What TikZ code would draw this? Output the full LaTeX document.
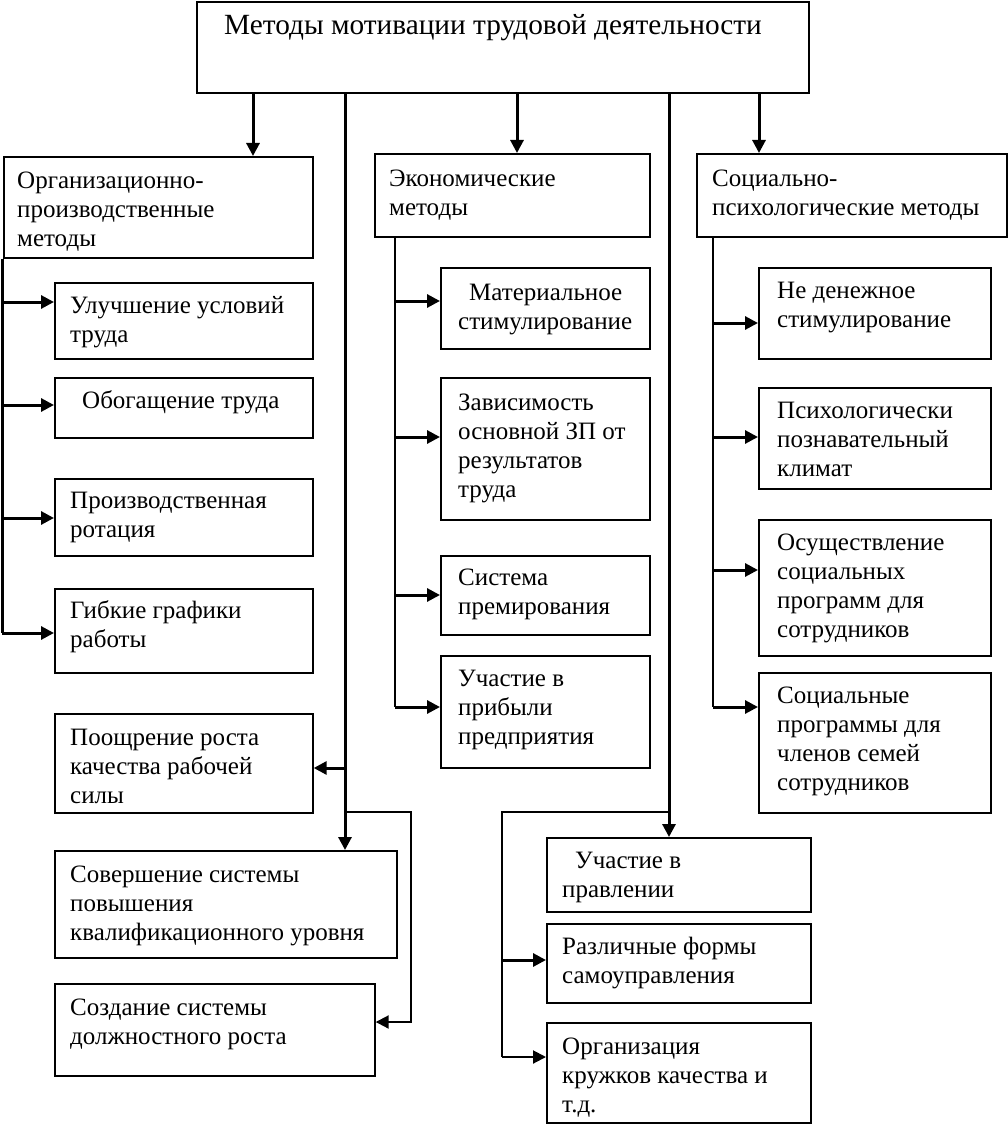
\documentclass[tikz,border=0pt]{standalone}
\usepackage{fontspec}
\setmainfont{Liberation Serif}
\usetikzlibrary{arrows.meta}
\begin{document}
\begin{tikzpicture}[x=1pt,y=-1pt,
  box/.style 2 args={draw, line width=1.7pt, anchor=north west, inner sep=0, minimum width=#1, minimum height=#2},
  txt/.style={anchor=north west, inner sep=0, align=left, font=\fontsize{25}{29}\selectfont, yshift=20.3pt},
  ttl/.style={anchor=base west, inner sep=0, font=\fontsize{29.3}{34}\selectfont},
  thk/.style={line width=3pt},
  med/.style={line width=2pt},
  thn/.style={line width=1.3pt},
  arr/.style={-{Triangle[length=13pt,width=13pt]}}]
\useasboundingbox (0,0) rectangle (1007,1147);

% top
\node[box={612}{91}] (top) at (196,1) {};
\node[ttl] (title) at (224,35) {Методы мотивации трудовой деятельности};

% headers
\node[box={309}{101}] (org) at (3,156) {};
\node[txt] (orgt) at (17,188) {\strut Организационно-\\производственные\\методы};
\node[box={275}{83}] (eco) at (374,153) {};
\node[txt] (ecot) at (389,186) {\strut Экономические\\методы};
\node[box={310}{83}] (soc) at (696,153) {};
\node[txt] (soct) at (712,186) {\strut Социально-\\психологические методы};

% arrows from top
\coordinate (xo) at (253,0);
\coordinate (xe) at (517,0);
\coordinate (xs) at (759,0);
\coordinate (xm1) at (345,0);
\coordinate (xm2) at (669,0);
\draw[thk,arr] (top.south -| xo) -- (org.north -| xo);
\draw[thk,arr] (top.south -| xe) -- (eco.north -| xe);
\draw[thk,arr] (top.south -| xs) -- (soc.north -| xs);

% organisational sub-boxes
\node[box={258}{76}] (b1) at (54,282) {};
\node[txt] (b1t) at (70,313) {\strut Улучшение условий\\труда};
\node[box={258}{60}] (b2) at (54,377) {};
\node[txt] (b2t) at (82,408) {\strut Обогащение труда};
\node[box={258}{77}] (b3) at (54,478) {};
\node[txt] (b3t) at (70,508) {\strut Производственная\\ротация};
\node[box={258}{84}] (b4) at (54,588) {};
\node[txt] (b4t) at (70,618) {\strut Гибкие графики\\работы};

\coordinate (ol1) at (2,302);
\coordinate (ol2) at (2,405);
\coordinate (ol3) at (2,518);
\coordinate (ol4) at (2,633);
\draw[thk] (org.south -| ol1) -- (ol4);
\draw[thk,arr] (ol1) -- (ol1 -| b1.west);
\draw[thk,arr] (ol2) -- (ol2 -| b2.west);
\draw[thk,arr] (ol3) -- (ol3 -| b3.west);
\draw[thk,arr] (ol4) -- (ol4 -| b4.west);

% economic sub-boxes
\node[box={209}{81}] (e1) at (440,267) {};
\node[txt] (e1t) at (458,300) {\strut\hspace*{11pt}Материальное\\стимулирование};
\node[box={209}{142}] (e2) at (440,377) {};
\node[txt] (e2t) at (458,410) {\strut Зависимость\\основной ЗП от\\результатов\\труда};
\node[box={209}{79}] (e3) at (440,555) {};
\node[txt] (e3t) at (458,585) {\strut Система\\премирования};
\node[box={209}{112}] (e4) at (440,655) {};
\node[txt] (e4t) at (458,686) {\strut Участие в\\прибыли\\предприятия};

\coordinate (el1) at (395,301);
\coordinate (el2) at (395,437);
\coordinate (el3) at (395,595);
\coordinate (el4) at (395,707);
\draw[thn] (eco.south -| el1) -- (el4);
\draw[thk,arr] (el1) -- (el1 -| e1.west);
\draw[thk,arr] (el2) -- (el2 -| e2.west);
\draw[thk,arr] (el3) -- (el3 -| e3.west);
\draw[thk,arr] (el4) -- (el4 -| e4.west);

% social sub-boxes
\node[box={232}{91}] (s1) at (758,267) {};
\node[txt] (s1t) at (777,298) {\strut Не денежное\\стимулирование};
\node[box={232}{101}] (s2) at (758,387) {};
\node[txt] (s2t) at (777,418) {\strut Психологически\\познавательный\\климат};
\node[box={232}{136}] (s3) at (758,519) {};
\node[txt] (s3t) at (777,550) {\strut Осуществление\\социальных\\программ для\\сотрудников};
\node[box={232}{140}] (s4) at (758,672) {};
\node[txt] (s4t) at (777,703) {\strut Социальные\\программы для\\членов семей\\сотрудников};

\coordinate (sl1) at (713,323);
\coordinate (sl2) at (713,437);
\coordinate (sl3) at (713,570);
\coordinate (sl4) at (713,707);
\draw[thn] (soc.south -| sl1) -- (sl4);
\draw[thk,arr] (sl1) -- (sl1 -| s1.west);
\draw[thk,arr] (sl2) -- (sl2 -| s2.west);
\draw[thk,arr] (sl3) -- (sl3 -| s3.west);
\draw[thk,arr] (sl4) -- (sl4 -| s4.west);

% lower left group
\node[box={258}{99}] (p1) at (54,713) {};
\node[txt] (p1t) at (70,745) {\strut Поощрение роста\\качества рабочей\\силы};
\node[box={342}{107}] (p2) at (54,850) {};
\node[txt] (p2t) at (70,882) {\strut Совершение системы\\повышения\\квалификационного уровня};
\node[box={320}{92}] (p3) at (54,983) {};
\node[txt] (p3t) at (70,1015) {\strut Создание системы\\должностного роста};

\coordinate (lm1) at (345,768);
\coordinate (lm2) at (345,812);
\coordinate (lr1) at (411,812);
\coordinate (lr2) at (411,1022);
\draw[thk,arr] (top.south -| xm1) -- (p2.north -| xm1);
\draw[thk,arr] (lm1) -- (lm1 -| p1.east);
\draw[med,arr] (lm2) -- (lr1) -- (lr2) -- (lr2 -| p3.east);

% lower right group
\node[box={264}{74}] (r1) at (546,837) {};
\node[txt] (r1t) at (562,868) {\strut\hspace*{13pt}Участие в\\правлении};
\node[box={264}{79}] (r2) at (546,923) {};
\node[txt] (r2t) at (562,954) {\strut Различные формы\\самоуправления};
\node[box={264}{100}] (r3) at (546,1022) {};
\node[txt] (r3t) at (562,1054) {\strut Организация\\кружков качества и\\т.д.};

\coordinate (rm) at (669,812);
\coordinate (rl1) at (502,812);
\coordinate (rl2) at (502,960);
\coordinate (rl3) at (502,1057);
\draw[thk,arr] (top.south -| xm2) -- (r1.north -| xm2);
\draw[med] (rm) -- (rl1) -- (rl3);
\draw[thk,arr] (rl2) -- (rl2 -| r2.west);
\draw[med,arr] (rl3) -- (rl3 -| r3.west);
\end{tikzpicture}
\end{document}
